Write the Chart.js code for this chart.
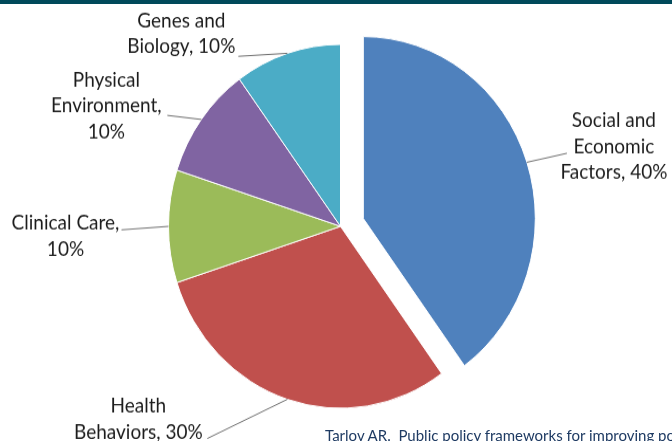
<!DOCTYPE html>
<html>
<head>
<meta charset="utf-8">
<script src="https://cdn.jsdelivr.net/npm/chart.js@4"></script>
<style>
    html, body { margin: 0; padding: 0; background: #ffffff; overflow: hidden; }
    body { width: 672px; height: 441px; position: relative; }
    #topbar { position: absolute; left: 0; top: 0; width: 672px; height: 4px; background: #00495a; z-index: 2; }
    /* the source picture is slightly taller than wide, so the pie is stretched a bit */
    #wrap { position: absolute; left: 0; top: 0; width: 672px; height: 417px; transform-origin: 0 0; transform: scaleY(1.0576); }
    #fonte { position: absolute; left: 325px; top: 428px; font: 15px Lato, sans-serif; line-height: 15px; color: #1f3b63; white-space: nowrap; z-index: 2; }
</style>
</head>
<body>
<div id="topbar"></div>
<div id="wrap"><canvas id="graficoSaude"></canvas></div>
<div id="fonte">Tarlov AR.&nbsp; Public policy frameworks for improving population health.</div>
<script>
var categorias = ['Social and Economic Factors', 'Health Behaviors', 'Clinical Care', 'Physical Environment', 'Genes and Biology'];
var valores = [40, 30, 10, 10, 10];
var cores = ['#4f81bd', '#c0504d', '#9bbb59', '#8064a2', '#4bacc6'];

// label placement, relative to the point where each slice's bisector meets the rim
// palavras = how many words go on each line of the label
var rotulos = [
    { ldx: 40, ldy: -8.5, cx: 47, linha: 1, by: 0, palavras: [2, 1, 2] },
    { ldx: -80, ldy: 37, cx: -69, linha: 1, by: 0, palavras: [1, 2] },
    { ldx: -47, ldy: 3.3, cx: -56, linha: 0, by: 0, palavras: [2, 1] },
    { ldx: -34, ldy: -3.8, cx: -61, linha: 1, by: -3, palavras: [1, 1, 1] },
    { ldx: -49, ldy: 2.8, cx: -57, linha: 1, by: -3, palavras: [2, 2] }
];
var destaque = [24, 0, 0, 0, 0];

function quebrar(texto, palavras) {
    var p = texto.split(' ');
    var linhas = [];
    var pos = 0;
    palavras.forEach(function (n) {
        linhas.push(p.slice(pos, pos + n).join(' '));
        pos += n;
    });
    return linhas;
}

var explodir = {
    id: 'explodir',
    afterDatasetsUpdate: function (chart) {
        var arcos = chart.getDatasetMeta(0).data;
        arcos.forEach(function (a, i) {
            var d = destaque[i];
            if (!d) return;
            var meio = (a.startAngle + a.endAngle) / 2;
            a.x = a.x + Math.cos(meio) * d;
            a.y = a.y + Math.sin(meio) * d;
        });
    }
};

var rotular = {
    id: 'rotular',
    afterDatasetsDraw: function (chart) {
        var ctx = chart.ctx;
        var arcos = chart.getDatasetMeta(0).data;
        ctx.save();
        ctx.font = '19px Lato, sans-serif';
        ctx.textAlign = 'center';
        ctx.textBaseline = 'alphabetic';
        arcos.forEach(function (a, i) {
            var r = rotulos[i];
            var meio = (a.startAngle + a.endAngle) / 2;
            var ex = a.x + Math.cos(meio) * a.outerRadius;
            var ey = a.y + Math.sin(meio) * a.outerRadius;
            var lx = ex + r.ldx;
            var ly = ey + r.ldy;
            ctx.strokeStyle = '#6f6f6f';
            ctx.lineWidth = 1;
            ctx.beginPath();
            ctx.moveTo(ex, ey);
            ctx.lineTo(lx, ly);
            ctx.stroke();
            var linhas = quebrar(categorias[i] + ', ' + valores[i] + '%', r.palavras);
            ctx.fillStyle = '#1c1c1c';
            linhas.forEach(function (t, k) {
                ctx.fillText(t, lx + r.cx, ly + r.by + (k - r.linha) * 24.5);
            });
        });
        ctx.restore();
    }
};

var ctx = document.getElementById('graficoSaude').getContext('2d');
var graficoSaude = new Chart(ctx, {
    type: 'pie',
    data: {
        labels: categorias,
        datasets: [
            {
                data: valores,
                backgroundColor: cores,
                borderColor: '#ffffff',
                borderWidth: 1,
                clip: false
            }
        ]
    },
    options: {
        responsive: true,
        maintainAspectRatio: false,
        animation: false,
        events: [],
        radius: 172,
        layout: {
            padding: { left: 9, right: 0, top: 11, bottom: 0 }
        },
        plugins: {
            legend: { display: false },
            tooltip: { enabled: false }
        }
    },
    plugins: [explodir, rotular]
});
</script>
</body>
</html>
